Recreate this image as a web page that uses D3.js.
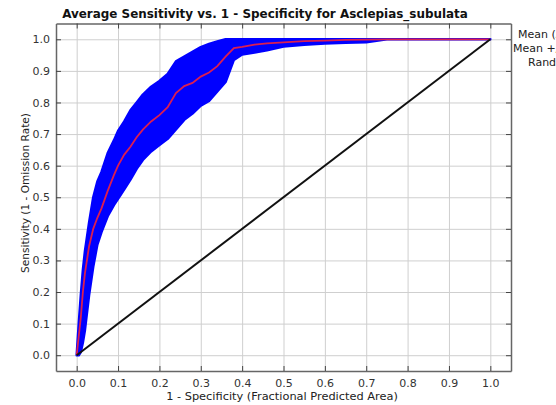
<!DOCTYPE html>
<html><head><meta charset="utf-8">
<script src="https://cdn.jsdelivr.net/npm/d3@7"></script>
<style>body{margin:0;background:#fff;} svg{display:block;font-family:"DejaVu Sans",sans-serif;}</style>
</head><body>
<svg id="c" width="556" height="405"></svg>
<script>
const xVals =  [0, 0.005, 0.01, 0.015, 0.02, 0.03, 0.04, 0.05, 0.06, 0.075, 0.09, 0.1, 0.115, 0.13, 0.145, 0.16, 0.18, 0.2, 0.22, 0.24, 0.26, 0.28, 0.3, 0.32, 0.34, 0.36, 0.38, 0.4, 0.43, 0.46, 0.5, 0.55, 0.6, 0.65, 0.7, 0.75, 0.8, 0.9, 1.0];
const meanVals=[0, 0.06, 0.12, 0.2, 0.26, 0.345, 0.40, 0.435, 0.465, 0.52, 0.57, 0.60, 0.635, 0.66, 0.69, 0.714, 0.74, 0.76, 0.785, 0.83, 0.852, 0.862, 0.882, 0.895, 0.915, 0.945, 0.972, 0.976, 0.983, 0.987, 0.99, 0.994, 0.996, 0.998, 0.999, 1, 1, 1, 1];
const upperVals=[0, 0.1, 0.19, 0.27, 0.33, 0.42, 0.5, 0.55, 0.58, 0.64, 0.68, 0.71, 0.74, 0.775, 0.80, 0.825, 0.85, 0.868, 0.89, 0.93, 0.945, 0.96, 0.975, 0.985, 0.993, 1, 1, 1, 1, 1, 1, 1, 1, 1, 1, 1, 1, 1, 1];
const lowerVals=[0, 0, 0.01, 0.04, 0.08, 0.19, 0.28, 0.35, 0.39, 0.44, 0.475, 0.495, 0.525, 0.556, 0.59, 0.618, 0.645, 0.665, 0.685, 0.715, 0.745, 0.765, 0.79, 0.805, 0.835, 0.865, 0.935, 0.952, 0.958, 0.965, 0.977, 0.983, 0.987, 0.989, 0.991, 1, 1, 1, 1];
const randomX = [0, 1];
const randomY = [0, 1];
const tickVals = [0, 0.1, 0.2, 0.3, 0.4, 0.5, 0.6, 0.7, 0.8, 0.9, 1.0];
const legendLabels = ["Mean (AUC)", "Mean +/- one stddev", "Random Prediction"];
const titleText = "Average Sensitivity vs. 1 - Specificity for Asclepias_subulata";
const xLabel = "1 - Specificity (Fractional Predicted Area)";
const yLabel = "Sensitivity (1 - Omission Rate)";

const svg = d3.select("#c");
const L = 56, R = 511, T = 23.5, B = 371;
const x = d3.scaleLinear().domain([-0.05, 1.05]).range([L, R]);
const y = d3.scaleLinear().domain([-0.05, 1.05]).range([B, T]);
const fmt = d3.format(".1f");

// grid
svg.append("g").attr("transform", `translate(0,${B})`)
  .call(d3.axisBottom(x).tickValues(tickVals).tickSize(-(B - T)).tickFormat(""))
  .call(g => { g.select(".domain").remove(); g.selectAll("line").attr("stroke", "#cfcfcf"); });
svg.append("g").attr("transform", `translate(${L},0)`)
  .call(d3.axisLeft(y).tickValues(tickVals).tickSize(-(R - L)).tickFormat(""))
  .call(g => { g.select(".domain").remove(); g.selectAll("line").attr("stroke", "#cfcfcf"); });

const data = xVals.map((v, i) => ({x: v, m: meanVals[i], u: upperVals[i], l: lowerVals[i]}));
svg.append("path").datum(data)
  .attr("d", d3.area().x(d => x(d.x)).y0(d => y(d.l)).y1(d => y(d.u)))
  .attr("fill", "#0000ff").attr("stroke", "#0000ff").attr("stroke-width", 2.5).attr("stroke-linejoin", "round");
svg.append("path").datum(data)
  .attr("d", d3.line().x(d => x(d.x)).y(d => y(d.m)))
  .attr("fill", "none").attr("stroke", "#dc1e50").attr("stroke-width", 1.8);
svg.append("path").datum(randomX.map((v, i) => [v, randomY[i]]))
  .attr("d", d3.line().x(d => x(d[0])).y(d => y(d[1])))
  .attr("fill", "none").attr("stroke", "#111").attr("stroke-width", 2);

// axes
function styleAxis(g) {
  g.select(".domain").attr("stroke", "#666").attr("stroke-width", 1.5);
  g.selectAll(".tick line").attr("stroke", "#444");
  g.selectAll(".tick text").attr("fill", "#333").style("font-size", "11px").style("font-family", "DejaVu Sans");
}
svg.append("g").attr("transform", `translate(0,${B})`)
  .call(d3.axisBottom(x).tickValues(tickVals).tickSize(-5).tickSizeOuter(0).tickPadding(8).tickFormat(fmt)).call(styleAxis);
svg.append("g").attr("transform", `translate(0,${T})`)
  .call(d3.axisTop(x).tickValues(tickVals).tickSize(-5).tickSizeOuter(0).tickFormat("")).call(styleAxis);
svg.append("g").attr("transform", `translate(${L},0)`)
  .call(d3.axisLeft(y).tickValues(tickVals).tickSize(-5).tickSizeOuter(0).tickPadding(6).tickFormat(fmt)).call(styleAxis);
svg.append("g").attr("transform", `translate(${R},0)`)
  .call(d3.axisRight(y).tickValues(tickVals).tickSize(-5).tickSizeOuter(0).tickFormat("")).call(styleAxis);

function fit(sel, w) {
  const fs = parseFloat(sel.style("font-size"));
  const len = sel.node().getComputedTextLength();
  sel.style("font-size", (fs * w / len) + "px");
}
const title = svg.append("text").attr("x", 265).attr("y", 18).attr("text-anchor", "middle")
  .style("font-weight", "bold").style("font-size", "12px").attr("fill", "#111").text(titleText);
fit(title, 406);
const xl = svg.append("text").attr("x", 282).attr("y", 400).attr("text-anchor", "middle")
  .style("font-size", "10px").attr("fill", "#222").text(xLabel);
fit(xl, 232);
const yl = svg.append("text").attr("transform", "translate(29,193) rotate(-90)").attr("text-anchor", "middle")
  .style("font-size", "10px").attr("fill", "#222").text(yLabel);
fit(yl, 160);

const legX = [518, 513, 528], legY = [38, 52, 66];
legendLabels.forEach((t, i) => {
  svg.append("text").attr("x", legX[i]).attr("y", legY[i]).style("font-size", "11px").attr("fill", "#222").text(t);
});
</script>
</body></html>
